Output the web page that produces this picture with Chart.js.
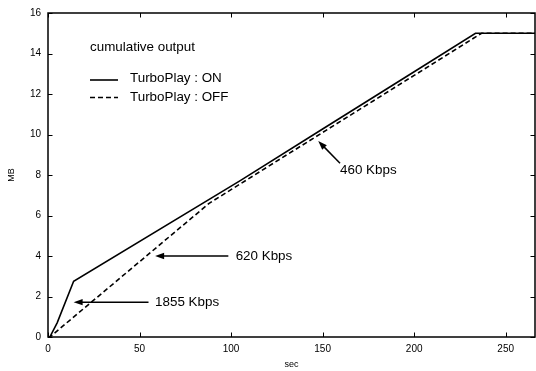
<!DOCTYPE html>
<html>
<head>
<meta charset="utf-8">
<script src="https://cdn.jsdelivr.net/npm/chart.js@4/dist/chart.umd.min.js"></script>
<style>
  html, body { margin: 0; padding: 0; background: #fff; }
  #wrap { width: 536px; height: 371px; }
</style>
</head>
<body>
<div id="wrap"><canvas id="chart"></canvas></div>
<script>
// cumulative output, TurboPlay ON
const onSec = [0, 1, 5, 14, 105, 150, 200, 233.5, 266];
const onMB = [0, 0, 0.7, 2.75, 7.72, 10.27, 13.1, 15, 15];

// cumulative output, TurboPlay OFF
const offSec = [0, 1, 88, 150, 200, 236.8, 266];
const offMB = [0, 0, 6.6, 10.1, 12.92, 15, 15];

const xTicks = [0, 50, 100, 150, 200, 250];
const yTicks = [0, 2, 4, 6, 8, 10, 12, 14, 16];

// arrows: text, tip (sec, MB), tail (sec, MB)
const notes = [
  { text: "460 Kbps", tip: [147.6, 9.68], tail: [159.5, 8.58], at: [159.5, 8.22] },
  { text: "620 Kbps", tip: [58.5, 4.0], tail: [98.5, 4.0], at: [102.5, 4.0] },
  { text: "1855 Kbps", tip: [14, 1.72], tail: [54.9, 1.72], at: [58.5, 1.72] },
];

const FONT = "'Liberation Sans', Arial, sans-serif";
const toPoints = (xs, ys) => xs.map((x, i) => ({ x, y: ys[i] }));

const arrow = (ctx, x1, y1, x2, y2) => {
  // draws from tail (x1,y1) to tip (x2,y2)
  const a = Math.atan2(y2 - y1, x2 - x1);
  const len = 9, half = 3.2;
  ctx.beginPath();
  ctx.moveTo(x1, y1);
  ctx.lineTo(x2 - Math.cos(a) * len * 0.8, y2 - Math.sin(a) * len * 0.8);
  ctx.stroke();
  ctx.beginPath();
  ctx.moveTo(x2, y2);
  ctx.lineTo(x2 - Math.cos(a) * len - Math.sin(a) * half, y2 - Math.sin(a) * len + Math.cos(a) * half);
  ctx.lineTo(x2 - Math.cos(a) * len + Math.sin(a) * half, y2 - Math.sin(a) * len - Math.cos(a) * half);
  ctx.closePath();
  ctx.fill();
};

const decorations = {
  id: "decorations",
  afterDatasetsDraw(chart) {
    const { ctx, chartArea: a, scales } = chart;
    const sx = scales.x, sy = scales.y;
    ctx.save();
    ctx.strokeStyle = "#000";
    ctx.fillStyle = "#000";

    // frame
    ctx.lineWidth = 1.5;
    ctx.strokeRect(a.left, a.top, a.right - a.left, a.bottom - a.top);

    // inward ticks on all four sides
    ctx.lineWidth = 1;
    const t = 4.5;
    ctx.beginPath();
    for (const v of xTicks) {
      const px = Math.round(sx.getPixelForValue(v)) + 0.5;
      ctx.moveTo(px, a.bottom); ctx.lineTo(px, a.bottom - t);
      ctx.moveTo(px, a.top); ctx.lineTo(px, a.top + t);
    }
    for (const v of yTicks) {
      const py = Math.round(sy.getPixelForValue(v)) + 0.5;
      ctx.moveTo(a.left, py); ctx.lineTo(a.left + t, py);
      ctx.moveTo(a.right, py); ctx.lineTo(a.right - t, py);
    }
    ctx.stroke();

    // arrows and their labels
    ctx.lineWidth = 1.5;
    ctx.font = "13.4px " + FONT;
    ctx.textBaseline = "middle";
    ctx.textAlign = "left";
    for (const n of notes) {
      arrow(ctx,
        sx.getPixelForValue(n.tail[0]), sy.getPixelForValue(n.tail[1]),
        sx.getPixelForValue(n.tip[0]), sy.getPixelForValue(n.tip[1]));
      ctx.fillText(n.text, sx.getPixelForValue(n.at[0]), sy.getPixelForValue(n.at[1]));
    }

    // key
    const kx = 90;
    ctx.fillText("cumulative output", kx, 47);
    ctx.lineWidth = 1.6;
    ctx.beginPath();
    ctx.moveTo(kx, 80); ctx.lineTo(kx + 28, 80);
    ctx.stroke();
    ctx.setLineDash([5, 3]);
    ctx.beginPath();
    ctx.moveTo(kx, 97.5); ctx.lineTo(kx + 28, 97.5);
    ctx.stroke();
    ctx.setLineDash([]);
    ctx.fillText("TurboPlay : ON", 130, 78);
    ctx.fillText("TurboPlay : OFF", 130, 97);
    ctx.restore();
  },
};

new Chart(document.getElementById("chart"), {
  type: "line",
  data: {
    datasets: [
      {
        label: "TurboPlay : ON",
        data: toPoints(onSec, onMB),
        borderColor: "#000",
        borderWidth: 1.6,
        pointRadius: 0,
        tension: 0,
        fill: false,
      },
      {
        label: "TurboPlay : OFF",
        data: toPoints(offSec, offMB),
        borderColor: "#000",
        borderWidth: 1.6,
        borderDash: [5, 3],
        pointRadius: 0,
        tension: 0,
        fill: false,
      },
    ],
  },
  options: {
    responsive: true,
    maintainAspectRatio: false,
    animation: false,
    layout: { padding: { top: 11, right: 1, left: 0, bottom: 0 } },
    plugins: {
      legend: { display: false },
      tooltip: { enabled: false },
    },
    scales: {
      x: {
        type: "linear",
        min: 0,
        max: 266,
        afterFit: (s) => { s.height = 34; },
        grid: { display: false, drawTicks: false },
        border: { display: false },
        ticks: {
          stepSize: 50,
          includeBounds: false,
          padding: 6,
          color: "#000",
          font: { family: FONT, size: 10 },
        },
        title: {
          display: true,
          text: "sec",
          color: "#000",
          padding: { top: 0, bottom: 1 },
          font: { family: FONT, size: 9 },
        },
      },
      y: {
        min: 0,
        max: 16,
        afterFit: (s) => { s.width = 48; },
        grid: { display: false, drawTicks: false },
        border: { display: false },
        ticks: {
          stepSize: 2,
          padding: 7,
          color: "#000",
          font: { family: FONT, size: 10 },
        },
        title: {
          display: true,
          text: "MB",
          color: "#000",
          padding: { top: 6, bottom: 0 },
          font: { family: FONT, size: 9 },
        },
      },
    },
  },
  plugins: [decorations],
});
</script>
</body>
</html>
